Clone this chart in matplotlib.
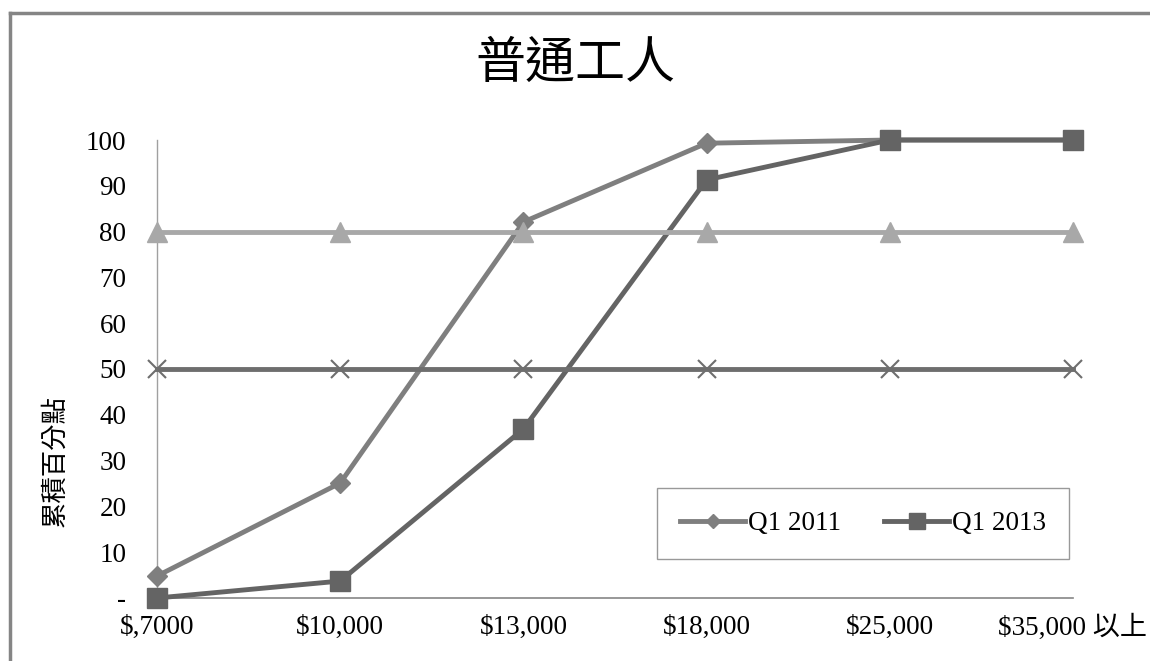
import numpy as np
import matplotlib.pyplot as plt
from matplotlib.lines import Line2D

plt.rcParams['font.family'] = ['Liberation Serif', 'Noto Sans CJK TC']

# wage bands and cumulative percentages
bands = ['$,7000', '$10,000', '$13,000', '$18,000', '$25,000', '$35,000 以上']
q1_2011 = [4.8, 25.1, 82.1, 99.3, 100, 100]
q1_2013 = [0, 3.7, 36.9, 91.3, 100, 100]
ref80 = [80, 80, 80, 80, 80, 80]
ref50 = [50, 50, 50, 50, 50, 50]
yticks = [0, 10, 20, 30, 40, 50, 60, 70, 80, 90, 100]
ylabels = ['-', '10', '20', '30', '40', '50', '60', '70', '80', '90', '100']

fig = plt.figure(figsize=(11.5, 6.61), dpi=100)
ax = fig.add_axes([157/1150, 1-598/661, 916/1150, 458/661])
x = np.arange(len(bands))

ax.plot(x, q1_2011, color='#7f7f7f', lw=3.5, marker='D', ms=10, label='Q1 2011', clip_on=False, zorder=3)
ax.plot(x, q1_2013, color='#646464', lw=3.5, marker='s', ms=15, label='Q1 2013', clip_on=False, zorder=4)
ax.plot(x, ref80, color='#a8a8a8', lw=3.5, marker='^', ms=15, clip_on=False, zorder=5)
ax.plot(x, ref50, color='#6e6e6e', lw=3.5, marker='x', ms=13, mew=1.5, clip_on=False, zorder=6)

ax.set_xlim(0, 5)
ax.set_ylim(0, 100)
ax.set_xticks(x)
ax.set_xticklabels(bands)
ax.set_yticks(yticks)
ax.set_yticklabels(ylabels)
ax.tick_params(axis='both', length=0, labelsize=19.5)
ax.tick_params(axis='y', pad=22)
ax.tick_params(axis='x', pad=12)

for s in ['top', 'right']:
    ax.spines[s].set_visible(False)
ax.spines['left'].set_color('#a0a0a0')
ax.spines['bottom'].set_color('#868686')
ax.spines['left'].set_linewidth(1)
ax.spines['bottom'].set_linewidth(1.2)

ax.set_ylabel('累積百分點', family=['Noto Sans CJK TC'], fontsize=19)
ax.yaxis.set_label_coords(-0.097, 0.30)

fig.text(0.5, 1-64/661, '普通工人', family=['Noto Sans CJK TC'], fontsize=36,
         ha='center', va='center')

leg = ax.legend(loc='center', bbox_to_anchor=(0.771, 0.1625), ncol=2, fontsize=19.5,
                frameon=True, fancybox=False, borderpad=0.85, handlelength=2.4,
                handletextpad=0.1, columnspacing=1.6, borderaxespad=0,
                markerscale=0.75)
leg.get_frame().set_edgecolor('#808080')
leg.get_frame().set_linewidth(1)

# chart area border
fig.add_artist(Line2D([10/1150, 10/1150], [0, 1-13/661], color='#858585', lw=2.5))
fig.add_artist(Line2D([10/1150, 1], [1-13/661, 1-13/661], color='#858585', lw=2.5))

fig.savefig('out.png', dpi=100)
